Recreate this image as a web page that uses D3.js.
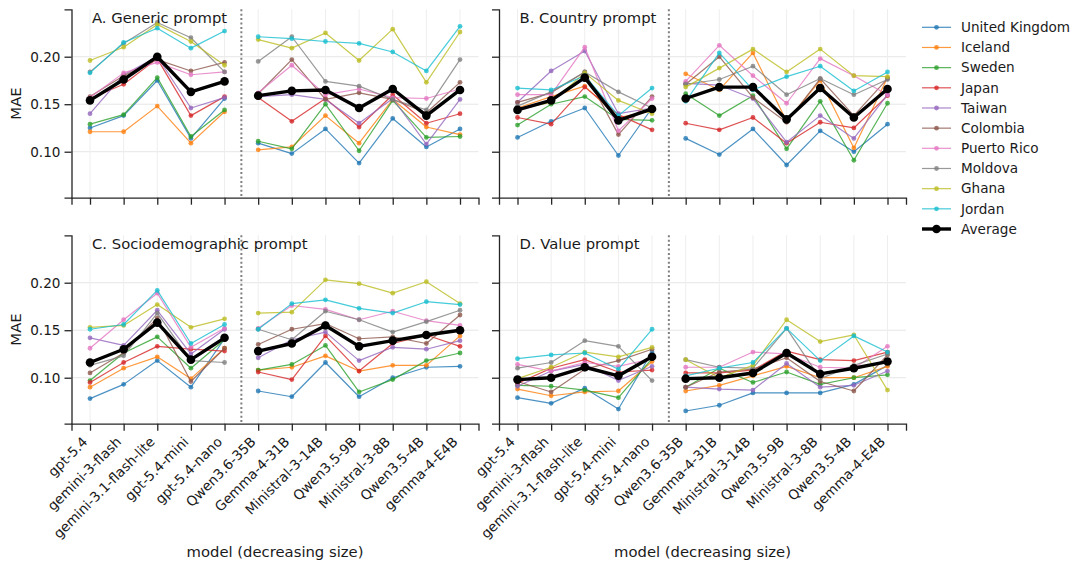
<!DOCTYPE html>
<html>
<head>
<meta charset="utf-8">
<script src="https://cdn.jsdelivr.net/npm/d3@7"></script>
<style>
  body { margin: 0; background: #fff; }
  text { font-family: "DejaVu Sans", sans-serif; fill: #1a1a1a; }
</style>
</head>
<body>
<div id="chart"></div>
<script>
const models = ['gpt-5.4', 'gemini-3-flash', 'gemini-3.1-flash-lite', 'gpt-5.4-mini', 'gpt-5.4-nano',
    'Qwen3.6-35B', 'Gemma-4-31B', 'Ministral-3-14B', 'Qwen3.5-9B', 'Ministral-3-8B', 'Qwen3.5-4B', 'gemma-4-E4B']

const countries = ['United Kingdom', 'Iceland', 'Sweden', 'Japan', 'Taiwan',
    'Colombia', 'Puerto Rico', 'Moldova', 'Ghana', 'Jordan']

const yTicks = [0.10, 0.15, 0.20]

// one row per country, same order as countries
const genericMAE = [
    [0.125, 0.138, 0.175, 0.114, 0.156, 0.109, 0.098, 0.124, 0.088, 0.135, 0.105, 0.124],
    [0.121, 0.121, 0.148, 0.109, 0.142, 0.102, 0.105, 0.138, 0.109, 0.155, 0.126, 0.118],
    [0.129, 0.139, 0.178, 0.116, 0.144, 0.111, 0.103, 0.150, 0.101, 0.154, 0.115, 0.116],
    [0.156, 0.171, 0.198, 0.138, 0.158, 0.157, 0.132, 0.156, 0.126, 0.160, 0.130, 0.140],
    [0.140, 0.181, 0.200, 0.146, 0.157, 0.158, 0.160, 0.155, 0.130, 0.156, 0.108, 0.155],
    [0.158, 0.180, 0.197, 0.185, 0.194, 0.161, 0.197, 0.155, 0.162, 0.155, 0.141, 0.173],
    [0.157, 0.183, 0.194, 0.181, 0.184, 0.162, 0.191, 0.160, 0.166, 0.157, 0.156, 0.166],
    [0.184, 0.214, 0.236, 0.220, 0.184, 0.195, 0.221, 0.174, 0.169, 0.155, 0.144, 0.197],
    [0.196, 0.210, 0.234, 0.216, 0.191, 0.218, 0.209, 0.225, 0.196, 0.229, 0.173, 0.226],
    [0.183, 0.215, 0.230, 0.209, 0.227, 0.221, 0.219, 0.216, 0.214, 0.205, 0.185, 0.232]
]
const genericAvg = [0.154, 0.176, 0.200, 0.163, 0.174, 0.159, 0.164, 0.165, 0.146, 0.166, 0.138, 0.165]

const countryMAE = [
    [0.115, 0.132, 0.146, 0.096, 0.146, 0.114, 0.097, 0.124, 0.086, 0.122, 0.100, 0.129],
    [0.146, 0.158, 0.169, 0.136, 0.143, 0.182, 0.165, 0.204, 0.132, 0.175, 0.104, 0.178],
    [0.128, 0.150, 0.158, 0.134, 0.133, 0.161, 0.138, 0.159, 0.103, 0.153, 0.091, 0.151],
    [0.136, 0.129, 0.168, 0.139, 0.123, 0.130, 0.123, 0.136, 0.109, 0.131, 0.125, 0.159],
    [0.152, 0.185, 0.206, 0.140, 0.146, 0.172, 0.170, 0.156, 0.110, 0.138, 0.114, 0.160],
    [0.152, 0.162, 0.184, 0.118, 0.158, 0.171, 0.200, 0.157, 0.131, 0.177, 0.138, 0.177],
    [0.160, 0.160, 0.210, 0.122, 0.156, 0.174, 0.212, 0.180, 0.151, 0.198, 0.180, 0.160],
    [0.148, 0.163, 0.184, 0.163, 0.146, 0.171, 0.176, 0.190, 0.160, 0.177, 0.160, 0.176],
    [0.145, 0.152, 0.183, 0.154, 0.140, 0.168, 0.188, 0.208, 0.184, 0.208, 0.180, 0.179],
    [0.167, 0.165, 0.180, 0.138, 0.167, 0.153, 0.204, 0.165, 0.179, 0.190, 0.164, 0.184]
]
const countryAvg = [0.144, 0.154, 0.178, 0.133, 0.145, 0.156, 0.168, 0.168, 0.134, 0.167, 0.136, 0.166]

const socioMAE = [
    [0.078, 0.093, 0.118, 0.090, 0.141, 0.086, 0.080, 0.116, 0.080, 0.100, 0.111, 0.112],
    [0.090, 0.110, 0.122, 0.099, 0.131, 0.108, 0.111, 0.123, 0.107, 0.113, 0.113, 0.144],
    [0.097, 0.126, 0.143, 0.110, 0.140, 0.108, 0.114, 0.134, 0.085, 0.098, 0.118, 0.126],
    [0.095, 0.116, 0.133, 0.130, 0.128, 0.106, 0.098, 0.144, 0.107, 0.136, 0.145, 0.133],
    [0.142, 0.134, 0.171, 0.125, 0.151, 0.121, 0.140, 0.148, 0.118, 0.132, 0.130, 0.139],
    [0.105, 0.126, 0.163, 0.096, 0.131, 0.135, 0.151, 0.157, 0.141, 0.143, 0.136, 0.166],
    [0.131, 0.161, 0.189, 0.132, 0.152, 0.152, 0.176, 0.172, 0.161, 0.170, 0.160, 0.155],
    [0.113, 0.123, 0.168, 0.118, 0.116, 0.151, 0.140, 0.170, 0.161, 0.148, 0.159, 0.171],
    [0.153, 0.155, 0.177, 0.153, 0.162, 0.168, 0.169, 0.203, 0.199, 0.189, 0.201, 0.178],
    [0.151, 0.156, 0.192, 0.136, 0.156, 0.151, 0.178, 0.182, 0.173, 0.168, 0.180, 0.177]
]
const socioAvg = [0.116, 0.130, 0.158, 0.119, 0.142, 0.128, 0.136, 0.155, 0.133, 0.139, 0.145, 0.150]

const valueMAE = [
    [0.079, 0.073, 0.089, 0.067, 0.127, 0.065, 0.071, 0.084, 0.084, 0.084, 0.093, 0.113],
    [0.088, 0.081, 0.085, 0.086, 0.117, 0.086, 0.092, 0.102, 0.112, 0.100, 0.100, 0.112],
    [0.092, 0.091, 0.087, 0.079, 0.120, 0.090, 0.110, 0.095, 0.106, 0.093, 0.100, 0.103],
    [0.094, 0.110, 0.119, 0.106, 0.108, 0.105, 0.105, 0.108, 0.128, 0.119, 0.118, 0.127],
    [0.091, 0.107, 0.114, 0.097, 0.112, 0.090, 0.088, 0.087, 0.115, 0.090, 0.092, 0.107],
    [0.096, 0.085, 0.109, 0.118, 0.130, 0.090, 0.106, 0.109, 0.121, 0.096, 0.086, 0.124],
    [0.114, 0.107, 0.116, 0.112, 0.120, 0.111, 0.111, 0.127, 0.125, 0.111, 0.110, 0.133],
    [0.110, 0.116, 0.139, 0.133, 0.097, 0.119, 0.111, 0.110, 0.152, 0.099, 0.113, 0.125],
    [0.099, 0.111, 0.127, 0.122, 0.132, 0.119, 0.100, 0.113, 0.161, 0.138, 0.145, 0.087],
    [0.120, 0.124, 0.126, 0.109, 0.151, 0.102, 0.110, 0.116, 0.152, 0.118, 0.144, 0.127]
]
const valueAvg = [0.098, 0.100, 0.111, 0.102, 0.122, 0.099, 0.100, 0.105, 0.126, 0.104, 0.110, 0.117]

const panels = [
    {title: 'A. Generic prompt', rows: genericMAE, avg: genericAvg, col: 0, row: 0},
    {title: 'B. Country prompt', rows: countryMAE, avg: countryAvg, col: 1, row: 0},
    {title: 'C. Sociodemographic prompt', rows: socioMAE, avg: socioAvg, col: 0, row: 1},
    {title: 'D. Value prompt', rows: valueMAE, avg: valueAvg, col: 1, row: 1}
]

const colors = d3.schemeCategory10
const width = 1072, height = 562
const colX = [71.5, 499], rowY = [9.3, 235.3]
const pw = 407, ph = 188.4
const fs = 13.6     // ticks, legend
const fsBig = 14.8  // titles, axis labels

let svg = d3.select('#chart').append('svg')
    .attr('width', width)
    .attr('height', height)

svg.append('rect').attr('width', width).attr('height', height).attr('fill', '#fff')

let xScale = d3.scaleLinear().domain([-0.55, models.length - 1 + 0.55]).range([0, pw])
let yScale = d3.scaleLinear().domain([0.0516, 0.2499]).range([ph, 0])

// the two model groups are drawn as separate segments
const segments = [[0, 4], [5, 11]]

let line = d3.line()
    .x(function(d){ return xScale(d.i) })
    .y(function(d){ return yScale(d.v) })

panels.forEach(function(p){

    let g = svg.append('g')
        .attr('transform', 'translate(' + colX[p.col] + ',' + rowY[p.row] + ')')

    // grid
    g.selectAll('.hgrid').data(yTicks).enter().append('line')
        .attr('x1', 0).attr('x2', pw)
        .attr('y1', function(d){ return yScale(d) }).attr('y2', function(d){ return yScale(d) })
        .attr('stroke', '#e6e6e6').attr('stroke-width', 1)

    g.selectAll('.vgrid').data(d3.range(models.length)).enter().append('line')
        .attr('x1', function(d){ return xScale(d) }).attr('x2', function(d){ return xScale(d) })
        .attr('y1', 0).attr('y2', ph)
        .attr('stroke', '#eeeeee').attr('stroke-width', 1)

    // separator between the two model groups
    g.append('line')
        .attr('x1', xScale(4.5)).attr('x2', xScale(4.5))
        .attr('y1', 0).attr('y2', ph)
        .attr('stroke', '#808080')
        .attr('stroke-width', 2)
        .attr('stroke-dasharray', '2,2.4')

    function drawSeries(values, color, lw, r, opacity){
        let pts = values.map(function(v, i){ return {i: i, v: v} })
        segments.forEach(function(s){
            g.append('path')
                .datum(pts.slice(s[0], s[1] + 1))
                .attr('fill', 'none')
                .attr('stroke', color)
                .attr('stroke-width', lw)
                .attr('stroke-opacity', opacity)
                .attr('stroke-linejoin', 'round')
                .attr('d', line)
        })
        g.append('g').selectAll('circle').data(pts).enter().append('circle')
            .attr('cx', function(d){ return xScale(d.i) })
            .attr('cy', function(d){ return yScale(d.v) })
            .attr('r', r)
            .attr('fill', color)
            .attr('fill-opacity', opacity)
    }

    p.rows.forEach(function(vals, k){
        drawSeries(vals, colors[k], 1.2, 2.4, 0.8)
    })
    drawSeries(p.avg, '#000', 3.4, 4.3, 1)

    // axes
    g.append('g')
        .call(d3.axisLeft(yScale).tickValues(yTicks).tickSizeOuter(0).tickSize(7).tickPadding(4)
            .tickFormat(p.col == 0 ? d3.format('.2f') : ''))

    let xAxis = g.append('g')
        .attr('transform', 'translate(0,' + ph + ')')
        .call(d3.axisBottom(xScale).tickValues(d3.range(models.length)).tickSizeOuter(0).tickSize(7)
            .tickFormat(function(d){ return p.row == 1 ? models[d] : '' }))

    g.selectAll('.domain').attr('stroke', '#262626').attr('stroke-width', 1.3)
    g.selectAll('.tick line').attr('stroke', '#262626').attr('stroke-width', 1.3)
    g.selectAll('.tick text').attr('font-size', fs).attr('font-family', '"DejaVu Sans", sans-serif').attr('fill', '#1a1a1a')

    if(p.row == 1){
        xAxis.selectAll('.tick text')
            .attr('x', 0).attr('y', 0).attr('dy', 0)
            .attr('text-anchor', 'end')
            .attr('transform', 'translate(-2,19) rotate(-45)')

        g.append('text')
            .attr('x', pw / 2)
            .attr('y', 557 - rowY[1])
            .attr('text-anchor', 'middle')
            .attr('font-size', fsBig)
            .text('model (decreasing size)')
    }

    if(p.col == 0){
        g.append('text')
            .attr('transform', 'translate(' + (-51) + ',' + (ph / 2) + ') rotate(-90)')
            .attr('text-anchor', 'middle')
            .attr('font-size', fsBig)
            .text('MAE')
    }

    g.append('text')
        .attr('x', 20.5)
        .attr('y', 14)
        .attr('font-size', fsBig)
        .text(p.title)
})

// legend
let legend = svg.append('g').attr('transform', 'translate(922,27.3)')
let legendItems = countries.concat(['Average'])

legendItems.forEach(function(name, k){
    let isAvg = name == 'Average'
    let c = isAvg ? '#000' : colors[k]
    let row = legend.append('g').attr('transform', 'translate(0,' + (k * 20.17) + ')')
    row.append('line')
        .attr('x1', 0).attr('x2', 29)
        .attr('stroke', c)
        .attr('stroke-width', isAvg ? 3.4 : 1.2)
        .attr('stroke-opacity', isAvg ? 1 : 0.8)
    row.append('circle')
        .attr('cx', 14.5)
        .attr('r', isAvg ? 4.3 : 2.4)
        .attr('fill', c)
        .attr('fill-opacity', isAvg ? 1 : 0.8)
    row.append('text')
        .attr('x', 39)
        .attr('dy', '0.35em')
        .attr('font-size', fs)
        .text(name)
})
</script>
</body>
</html>
